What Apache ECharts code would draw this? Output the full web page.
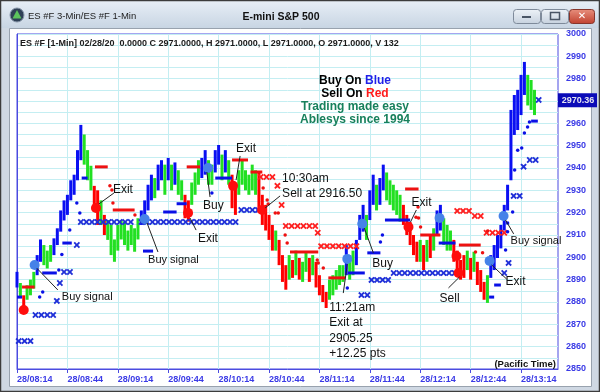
<!DOCTYPE html>
<html><head><meta charset="utf-8">
<script src="https://cdn.jsdelivr.net/npm/echarts@6/dist/echarts.min.js"></script>
<style>html,body{margin:0;padding:0;background:#fff}#c{width:600px;height:392px}</style>
</head><body><div id="c"></div>
<script>
// ---- DATA (minutes after 08:14, prices) ----
const barStepMinutes = 2;
const barLow = [
2886.5,2881.8,2875.5,2881,2883,2886,2892,2898,2896.5,2895,
2898,2901,2905.5,2911.5,2916.5,2919,2925.5,2928,2934.5,2943.5,
2941.5,2934.5,2930,2921,2914.5,2914.5,2910,2907.8,2901,2898,
2903,2908,2905.5,2903,2905.5,2902.5,2908,2914.5,2916.5,2921,
2925.5,2926.5,2930,2934.5,2928,2934.5,2930,2932.5,2928,2925.5,
2917.5,2916,2923.5,2928,2932.5,2935.5,2937,2932.5,2932.5,2938,
2941.5,2934.5,2938,2932.5,2922,2919,2928,2932.5,2930,2928,
2930,2928,2920,2914.5,2912,2907.8,2903,2903,2896.5,2889,
2885.5,2890,2890.8,2892,2890,2889,2893.5,2889,2892,2886.5,
2883,2880,2877.3,2881,2883,2885.5,2887.6,2889,2892,2890,
2892,2896.5,2907.8,2911.5,2907.8,2916.7,2923.5,2921,2923.5,2930,
2925.5,2923.5,2921,2919,2916,2914.5,2910,2905.5,2901,2898,
2898,2894.3,2898,2899.7,2903,2910,2912,2905.5,2903,2903,
2898,2892,2890,2890.8,2894.3,2890,2893.5,2887.6,2884.5,2881,
2879.6,2890.8,2894.3,2899.7,2904,2912,2921,2934.5,2954.8,2957,
2963.7,2972.7,2968,2966,2963.7];
const barHigh = [
2893.5,2888.5,2883,2887.5,2890,2893.5,2901,2908,2905.5,2903,
2905.5,2908.5,2913,2921,2925.5,2928,2934.5,2937,2948,2959.3,
2955,2948,2941,2932,2930,2925.5,2919,2916.7,2914.5,2908,
2914.5,2916.7,2916,2912,2914.5,2913,2917.5,2921,2925.5,2932.5,
2937,2935.5,2941.5,2943.5,2941.5,2944.5,2941.5,2942.5,2939,2934.5,
2928,2925.5,2933.5,2938,2943.5,2944.5,2948,2943.5,2941.5,2948,
2950.3,2946,2948,2943.5,2937,2932.5,2939,2943.5,2939,2937,
2941.5,2939,2938,2928,2923.5,2919,2914.5,2912,2907.8,2901,
2896.5,2901,2898.8,2903,2899.7,2898,2902.5,2899.7,2901,2898,
2892,2887.6,2884.5,2890,2892,2894.3,2896.5,2896.5,2905.5,2901,
2903,2907.8,2919,2923.5,2919,2930,2937,2932.5,2935.5,2941.5,
2938,2934.5,2932.5,2930,2928,2923.5,2919,2915.8,2910,2907,
2907.8,2905.5,2907.8,2910,2913,2921,2923.5,2917.5,2914.5,2912,
2907.8,2903,2898.8,2901,2903,2899.7,2902.5,2898,2894.3,2889,
2892,2901,2905.5,2910,2914.5,2923.5,2932.5,2966,2972.7,2975,
2981.7,2987.5,2981.7,2979.4,2975];
const barColorCodes =
"BGRGGGBBGG"+"GBBBBBBBBB"+"GGGRRGRGGG"+"GGGGGGGBBB"+"BGBBGBGBGG"+
"RRGGGBBGGB"+"BGBGRRGGGG"+"GGRRRRRGRR"+"RGRGRGGRGR"+"RRRGGGGGBG"+
"GBBBGBBGBB"+"GGGGGRRRRR"+"GRGRGBBGGG"+"RRRRGRGRRR"+"GBBBBBBBBB"+"BBGGG";

const blueCircles = [[10.5,2896.6],[76,2917.2],[113.7,2940],[196.6,2899.3],[205.5,2915],[251.5,2917.6],[281.3,2898.4],[289.6,2918.5]];
const redCircles = [[4,2876.4],[47,2922.1],[101.8,2919.9],[128.6,2932],[145.9,2921.2],[233,2913.6],[261.6,2900.6],[262.8,2893]];

const blueXs = [
[1,2862.5],[4.5,2862.5],[8,2862.5],
[11,2874.2],[14.5,2874.2],[18,2874.2],[21.5,2874.2],
[23.7,2880.5],[25.5,2888.5],[28,2893.4],[31.5,2893.4],[35.6,2905.5],
[38,2915.8],[41.3,2915.8],[44.6,2915.8],[47.9,2915.8],[51.2,2915.8],[54.5,2915.8],[57.8,2915.8],[61.1,2915.8],[64.4,2915.8],[67.7,2915.8],
[74,2915.8],[77.3,2915.8],[80.6,2915.8],[83.9,2915.8],[87.2,2915.8],[90.5,2915.8],[93.8,2915.8],[97.1,2915.8],[100.4,2915.8],[103.7,2915.8],
[107,2915.8],[110.3,2915.8],[113.6,2915.8],[116.9,2915.8],[120.2,2915.8],[123.5,2915.8],[126.8,2915.8],[130.1,2915.8],
[133.5,2921.2],[136.8,2921.2],[140.1,2921.2],[143.4,2921.2],
[205,2883.1],[208.5,2883.1],
[211,2889.9],[214.3,2889.9],[217.6,2889.9],[220.9,2889.9],
[224.2,2893],[227.5,2893],[230.8,2893],[234.1,2893],[237.4,2893],[240.7,2893],[244,2893],[247.3,2893],[250.6,2893],[253.9,2893],[257.2,2893],[260.5,2893],
[290,2893],[292.6,2897.5],[295.6,2927.5],[299.2,2927.5],[301.5,2940.6],[305.2,2943.6],[308.7,2943.6],[310.5,2970.5]];
const redXs = [
[145,2936],[148.5,2936],[152,2936],[155,2932],[157.5,2923.4],
[160,2914],[163.5,2914],[167,2914],[170.5,2914],[174,2914],[177.5,2914],[179,2911],
[181,2905],[184.5,2905],[188,2905],[191.5,2905],[195,2905],[198.5,2905],[202,2905],
[262,2920.8],[265.5,2920.8],[269,2920.8],[272.5,2918.5],[276,2918.5],
[279.5,2911],[283,2911],[286.5,2911],[290,2911]];

const redDashes = [[3,10.5,2886.7],[46.4,54,2940.5],[57,70,2921.2],[101,109,2940.5],[128,137.5,2943.6],[139,146,2938.2],[162.5,179.3,2902.4],[185.3,195.4,2890.8],[231,239,2930.6],[240,252,2910],[263,276,2905.5]];
const blueDashes = [[0,3,2882.2],[15,23.7,2893],[27,32.6,2906.4],[38.5,42,2935.5],[75,81,2902.8],[87,95,2920.3],[95,101,2924],[118,128,2935.5],[197,207,2893],[208.5,216.3,2902],[219,234,2916.7],[251,261,2906.4],[281,284,2882.2],[284,288,2887.6],[306,310,2961]];

const blueDots = [[13.5,2882.2],[15.3,2884.5],[24.9,2894.3],[26.7,2901.3],[31.4,2912.2],[35.6,2924.3],[37.4,2919.9],[116,2928.8],[196.6,2886.3],[216.3,2906.9],[217.5,2910],[290.8,2903.3],[292,2911.4],[292,2915.4],[295,2920.3],[296.2,2939.1],[298,2948],[300.4,2949],[302,2955.7],[303.9,2958.4],[305,2960.6]];
const redDots = [[55.3,2932],[56.5,2930.2],[57.1,2924.3],[70.2,2919],[146.5,2931],[148.9,2925.7],[149.5,2923.9],[153.7,2919.9],[155.5,2919.9],[159.6,2910],[160.8,2906.4],[178.7,2898.8],[179.3,2897.5],[182.3,2895.2],[237.5,2918],[238.7,2922.5],[239,2917.6],[240.2,2913.6],[272.9,2902.4],[277.1,2902],[280.1,2911.8]];

const annotTexts = ['Buy signal','Exit','Buy signal','Buy','Exit','Exit','10:30am\nSell at 2916.50','11:21am\nExit at\n2905.25\n+12.25 pts','Buy','Exit','Sell','Exit','Buy signal'];
const annotT = [26.7,57.1,78,110.7,130.4,107.7,157.8,185.9,211.5,234.8,251.5,290.8,293.8];
const annotP = [2882.2,2930.2,2898.8,2923.4,2949,2908.7,2935.5,2877.8,2897.5,2924.8,2881.8,2889.4,2907.3];
const leaderLines = [[11.7,2895.2,24.3,2885.4],[48.7,2923.9,57.7,2928.8],[77.4,2915.4,83.9,2902.4],[113,2938.2,114.9,2927],[132.8,2945.4,130.4,2934.6],[103,2917.6,106.6,2912.2],[156.6,2927.5,147.7,2922.1],[194.2,2884,196.6,2897],[206.7,2913.1,212.1,2902],[237.7,2921.2,234.2,2915.8],[256.8,2886.3,263.4,2891.2],[282.5,2896.6,291.4,2890.3],[290.8,2916.7,295.6,2910.5]];

const xTickMinutes = [0,30,60,90,120,150,180,210,240,270,300];
const xTickLabels = ['28/08:14','28/08:44','28/09:14','28/09:44','28/10:14','28/10:44','28/11:14','28/11:44','28/12:14','28/12:44','28/13:14'];
const yTickValues = [2850,2860,2870,2880,2890,2900,2910,2920,2930,2940,2950,2960,2970,2980,2990,3000];
const lastPriceLabel = 2970.36;

// ---- CHART ----
const barColors = {B:'#0a10f2', G:'#22e022', R:'#ff0000'};
const bars = barLow.map((lo, i) => [i * barStepMinutes, lo, barHigh[i]]);
const F = '"Liberation Sans", Arial, sans-serif';
const axisBlue = '#3a3ae6';
const gridCol = '#c4eef2';
const xPath = 'path://M2,0L5,3L8,0L10,2L7,5L10,8L8,10L5,7L2,10L0,8L3,5L0,2Z';

const chart = echarts.init(document.getElementById('c'));
const grad = (a, b) => new echarts.graphic.LinearGradient(0, 0, 0, 1, [{offset:0, color:a}, {offset:1, color:b}]);

chart.setOption({
  animation: false,
  backgroundColor: '#cfd8e3',
  grid: {left:17, top:34, right:42, bottom:23, show:true, borderColor:'#4b4be0', borderWidth:1, backgroundColor:'#fff'},
  xAxis: {type:'value', min:0, max:322, interval:10,
    axisLine:{show:true, lineStyle:{color:'#4b4be0'}},
    axisTick:{show:true, customValues:xTickMinutes, length:4, lineStyle:{color:'#4b4be0'}},
    axisLabel:{customValues:xTickMinutes, formatter:v => xTickLabels[xTickMinutes.indexOf(v)] || '', color:axisBlue, fontWeight:'bold', fontSize:9, fontFamily:F, align:'left', margin:6},
    splitLine:{show:true, lineStyle:{color:gridCol}}},
  yAxis: {type:'value', position:'right', min:2850, max:3000, interval:5,
    axisLine:{show:true, lineStyle:{color:'#4b4be0'}}, axisTick:{show:false},
    axisLabel:{customValues:yTickValues, formatter:v => String(v), color:axisBlue, fontWeight:'bold', fontSize:9, fontFamily:F, margin:8},
    splitLine:{show:true, lineStyle:{color:gridCol}}},
  series: [
    {type:'custom', z:3, data:bars, encode:{x:0, y:[1,2]},
      renderItem:(params, api) => {
        const t = api.value(0), p1 = api.coord([t, api.value(2)]), p2 = api.coord([t, api.value(1)]);
        return {type:'rect', shape:{x:p1[0]-1.5, y:p1[1], width:3, height:Math.max(1, p2[1]-p1[1])},
          style:{fill:barColors[barColorCodes[params.dataIndex]]}};
      }},
    {type:'custom', z:4, data:redDashes, encode:{x:[0,1], y:2},
      renderItem:(params, api) => {
        const a = api.coord([api.value(0), api.value(2)]), b = api.coord([api.value(1), api.value(2)]);
        return {type:'rect', shape:{x:a[0], y:a[1]-1.5, width:b[0]-a[0], height:3}, style:{fill:'#ee1111'}};
      }},
    {type:'custom', z:4, data:blueDashes, encode:{x:[0,1], y:2},
      renderItem:(params, api) => {
        const a = api.coord([api.value(0), api.value(2)]), b = api.coord([api.value(1), api.value(2)]);
        return {type:'rect', shape:{x:a[0], y:a[1]-1.5, width:b[0]-a[0], height:3}, style:{fill:'#0a10e6'}};
      }},
    {type:'scatter', z:5, data:blueXs, symbol:xPath, symbolSize:6.5, itemStyle:{color:'#2030d8', opacity:1}},
    {type:'scatter', z:5, data:redXs, symbol:xPath, symbolSize:6.5, itemStyle:{color:'#ff2020', opacity:1}},
    {type:'scatter', z:5, data:blueDots, symbol:'circle', symbolSize:3.5, itemStyle:{color:'#0a10e6', opacity:1}},
    {type:'scatter', z:5, data:redDots, symbol:'circle', symbolSize:3.5, itemStyle:{color:'#ee1111', opacity:1}},
    {type:'scatter', z:6, data:blueCircles, symbol:'circle', symbolSize:10, itemStyle:{color:'#4682e8', opacity:1}},
    {type:'scatter', z:6, data:redCircles, symbol:'circle', symbolSize:10, itemStyle:{color:'#ff0d0d', opacity:1}},
    {type:'custom', z:7, data:leaderLines, encode:{x:[0,2], y:[1,3]},
      renderItem:(params, api) => {
        const a = api.coord([api.value(0), api.value(1)]), b = api.coord([api.value(2), api.value(3)]);
        return {type:'line', shape:{x1:a[0], y1:a[1], x2:b[0], y2:b[1]}, style:{stroke:'#222', lineWidth:1}};
      }},
    {type:'custom', z:8, data:annotT.map((t, i) => [t, annotP[i]]), encode:{x:0, y:1},
      renderItem:(params, api) => {
        const p = api.coord([api.value(0), api.value(1)]);
        const txt = annotTexts[params.dataIndex];
        const size = txt === 'Buy signal' ? 11 : 12;
        return {type:'text', x:p[0], y:p[1]-7.5, style:{text:txt, fill:'#111', font:size + 'px ' + F, lineHeight:15.6, align:'left', verticalAlign:'top'}};
      }},
    {type:'custom', z:8, data:[[0, lastPriceLabel]], encode:{x:0, y:1},
      renderItem:(params, api) => {
        const y = api.coord([0, api.value(1)])[1], xr = api.coord([322, api.value(1)])[0];
        return {type:'group', children:[
          {type:'rect', shape:{x:xr, y:y-7, width:39, height:14}, style:{fill:'#0b0bb8'}},
          {type:'text', x:xr+20, y:y, style:{text:lastPriceLabel.toFixed(2), fill:'#e6e6f2', font:'bold 9px ' + F, align:'center', verticalAlign:'middle'}}]};
      }}
  ],
  graphic: [
    {type:'rect', z:-20, shape:{x:1, y:1, width:598, height:27}, style:{fill:grad('#e7eef6', '#c8d5e3')}},
    {type:'rect', z:-19, shape:{x:9.5, y:28.5, width:582, height:358}, style:{fill:'#fff', stroke:'#98a2ae', lineWidth:1}},
    {type:'rect', z:-18, shape:{x:0.5, y:0.5, width:599, height:391}, style:{fill:null, stroke:'#3c3c3c', lineWidth:1.5}},
    {type:'circle', z:10, shape:{cx:17, cy:15, r:7}, style:{fill:'#2f4056', stroke:'#8795a8', lineWidth:1}},
    {type:'polygon', z:11, shape:{points:[[17,10],[21.5,18.5],[12.5,18.5]]}, style:{fill:'#5cc35c'}},
    {type:'text', z:10, x:28, y:16, style:{text:'ES #F 3-Min/ES #F 1-Min', fill:'#1c1c1c', font:'9.5px ' + F, verticalAlign:'middle'}},
    {type:'text', z:10, x:281, y:17, style:{text:'E-mini S&P 500', fill:'#111', font:'bold 10.5px ' + F, align:'center', verticalAlign:'middle'}},
    {type:'rect', z:10, shape:{x:513.5, y:9.5, width:27, height:14, r:3}, style:{fill:grad('#eef3f8', '#c6d1de'), stroke:'#7e8a9a'}},
    {type:'rect', z:11, shape:{x:522, y:16, width:9, height:2}, style:{fill:'#4a5666'}},
    {type:'rect', z:10, shape:{x:541.5, y:9.5, width:27, height:14, r:3}, style:{fill:grad('#eef3f8', '#c6d1de'), stroke:'#7e8a9a'}},
    {type:'rect', z:11, shape:{x:550.5, y:12.5, width:9, height:7}, style:{fill:null, stroke:'#4a5666', lineWidth:1.5}},
    {type:'rect', z:10, shape:{x:569.5, y:9.5, width:25, height:14, r:3}, style:{fill:grad('#e8907e', '#c0402e'), stroke:'#86352b'}},
    {type:'text', z:11, x:582, y:16.5, style:{text:'✕', fill:'#fff', font:'bold 10px "DejaVu Sans"', align:'center', verticalAlign:'middle'}},
    {type:'text', z:10, x:20, y:44, style:{text:'ES #F [1-Min] 02/28/20  0.0000 C 2971.0000, H 2971.0000, L 2971.0000, O 2971.0000, V 132', fill:'#1a1a1a', font:'bold 9px ' + F, verticalAlign:'middle'}},
    {type:'text', z:10, x:355, y:81, style:{text:'{k|Buy On }{b|Blue}', rich:{k:{fill:'#000', font:'bold 12px ' + F}, b:{fill:'#1f1fe8', font:'bold 12px ' + F}}, align:'center', verticalAlign:'middle'}},
    {type:'text', z:10, x:355, y:94, style:{text:'{k|Sell On }{r|Red}', rich:{k:{fill:'#000', font:'bold 12px ' + F}, r:{fill:'#ff1a1a', font:'bold 12px ' + F}}, align:'center', verticalAlign:'middle'}},
    {type:'text', z:10, x:355, y:107, style:{text:'Trading made easy', fill:'#17805c', font:'bold 12px ' + F, align:'center', verticalAlign:'middle'}},
    {type:'text', z:10, x:355, y:120, style:{text:'Ablesys since 1994', fill:'#17805c', font:'bold 12px ' + F, align:'center', verticalAlign:'middle'}},
    {type:'text', z:10, x:556, y:364, style:{text:'(Pacific Time)', fill:'#111', font:'bold 9.5px ' + F, align:'right', verticalAlign:'middle'}}
  ]
});
</script></body></html>
